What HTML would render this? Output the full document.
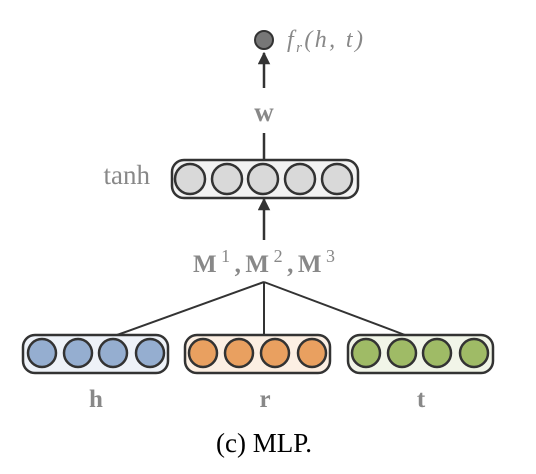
<!DOCTYPE html>
<html><head><meta charset="utf-8"><style>
html,body{margin:0;padding:0;background:#fff;}
svg{display:block;}
text{font-family:"Liberation Serif",serif;}
</style></head><body>
<svg width="536" height="474" viewBox="0 0 536 474">
<defs>
<marker id="ah" viewBox="0 0 10 10" refX="9" refY="5" markerWidth="5" markerHeight="5" orient="auto"><path d="M0,0 L10,5 L0,10 z" fill="#333"/></marker>
</defs>
<circle cx="264" cy="40" r="9" fill="#777" stroke="#333" stroke-width="2"/>
<text x="287" y="47" font-size="24" font-style="italic" fill="#888" textLength="76" lengthAdjust="spacing">f<tspan font-size="15" dy="5">r</tspan><tspan dy="-5">(h, t)</tspan></text>
<line x1="264" y1="88" x2="264" y2="53" stroke="#333" stroke-width="2.5" marker-end="url(#ah)"/>
<text x="264" y="121" font-size="27" font-weight="bold" fill="#888" text-anchor="middle">w</text>
<line x1="264" y1="133" x2="264" y2="160" stroke="#333" stroke-width="2.5"/>
<text x="150" y="184" font-size="27" fill="#888" text-anchor="end">tanh</text>
<g id="hid"></g>
<line x1="264" y1="240" x2="264" y2="199" stroke="#333" stroke-width="2.5" marker-end="url(#ah)"/>
<text x="193" y="272" font-size="25" font-weight="bold" fill="#888" textLength="142" lengthAdjust="spacing">M<tspan font-size="18" font-weight="normal" dy="-10">1</tspan><tspan dy="10">,M</tspan><tspan font-size="18" font-weight="normal" dy="-10">2</tspan><tspan dy="10">,M</tspan><tspan font-size="18" font-weight="normal" dy="-10">3</tspan></text>
<line x1="264" y1="282" x2="117" y2="335" stroke="#333" stroke-width="2"/>
<line x1="264" y1="282" x2="264" y2="335" stroke="#333" stroke-width="2"/>
<line x1="264" y1="282" x2="405" y2="335" stroke="#333" stroke-width="2"/>
<g id="inputs"></g>
<text x="96" y="407" font-size="25" font-weight="bold" fill="#888" text-anchor="middle">h</text>
<text x="265" y="407" font-size="25" font-weight="bold" fill="#888" text-anchor="middle">r</text>
<text x="421" y="407" font-size="25" font-weight="bold" fill="#888" text-anchor="middle">t</text>
<text x="264" y="452" font-size="27" fill="#000" text-anchor="middle">(c)  MLP.</text>
</svg>
<script>
const NS='http://www.w3.org/2000/svg';
function mk(t,a){const e=document.createElementNS(NS,t);for(const k in a)e.setAttribute(k,a[k]);return e;}
const hidCx=[190,227,263,300,337];
const hid=document.getElementById('hid');
let b=mk('rect',{x:172,y:160,width:186,height:38,rx:12,fill:'#f2f2f2',stroke:'#333','stroke-width':2.5});


hid.appendChild(b);
hidCx.forEach(cx=>{const c=mk('circle',{cx:cx,cy:179,r:15,fill:'#d9d9d9',stroke:'#333','stroke-width':2.5});


hid.appendChild(c);});
const groups=[
 {name:'h',x:23,w:145,fill:'#95aed0',bg:'#eef2f8',cx:[42,78,113,150]},
 {name:'r',x:185,w:145,fill:'#e9a060',bg:'#fcefe3',cx:[203,239,275,312]},
 {name:'t',x:348,w:145,fill:'#9fbb66',bg:'#f1f5e8',cx:[366,402,437,474]}];
const inp=document.getElementById('inputs');
groups.forEach(g=>{
 const r=mk('rect',{x:g.x,y:335,width:g.w,height:38,rx:12,fill:g.bg,stroke:'#333','stroke-width':2.5});
 
 
 inp.appendChild(r);
 g.cx.forEach(cx=>{const c=mk('circle',{cx:cx,cy:353,r:14,fill:g.fill,stroke:'#333','stroke-width':2.5});
 
 
 inp.appendChild(c);});
});
</script>
</body></html>
